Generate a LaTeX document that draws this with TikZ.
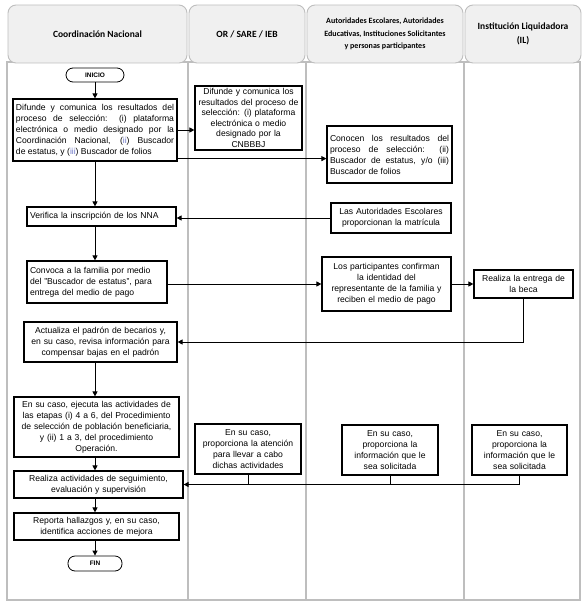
\documentclass[tikz,border=0pt]{standalone}
\usepackage{fontspec}
\setmainfont{Liberation Sans}
\newfontfamily\headfont{Carlito}
\usetikzlibrary{arrows.meta,positioning,calc}
\definecolor{lanegray}{RGB}{190,190,190}
\definecolor{headfill}{RGB}{240,240,240}
\definecolor{numblue}{RGB}{110,120,200}
\newcommand{\rnum}[1]{{\color{numblue}#1}}
\tikzset{
  pbox/.style={rectangle,draw=black,line width=1.2pt,fill=white,
               text width=#1,align=center,inner sep=3pt,
               font=\fontsize{8.6}{11}\selectfont},
  pbox/.default=100pt,
  term/.style={rectangle,rounded corners=7pt,draw=black,line width=0.8pt,fill=white,
               minimum width=#1,minimum height=14pt,inner sep=1pt,
               font=\fontsize{6.5}{7}\selectfont\bfseries},
  term/.default=56pt,
  arr/.style={-{Triangle[length=5pt,width=5pt]},line width=0.9pt},
  link/.style={line width=0.9pt},
}

\begin{document}
\begin{tikzpicture}[x=1pt,y=-1pt,
    lanehead/.style={rectangle,rounded corners=8pt,draw=lanegray,fill=headfill,line width=0.9pt,
                     minimum height=58pt,align=center,font=\headfont\fontsize{9.5}{14}\selectfont\bfseries},
    laneline/.style={draw=lanegray,line width=1.1pt},
  ]
    \useasboundingbox (0,0) rectangle (586,607);
    \draw[laneline] (7,62) rectangle (580,600);
    \foreach \x in {188,306,464} \draw[laneline] (\x,62) -- (\x,600);

    \node[lanehead,minimum width=179pt] (h1) at (97.5,34) {Coordinación Nacional};
    \node[lanehead,minimum width=116pt] (h2) at (247,34) {OR / SARE / IEB};
    \node[lanehead,minimum width=156pt,font=\headfont\fontsize{8}{12.5}\selectfont\bfseries] (h3) at (385,34)
      {Autoridades Escolares, Autoridades\\Educativas, Instituciones Solicitantes\\y personas participantes};
    \node[lanehead,minimum width=116pt] (h4) at (523,34) {Institución Liquidadora\\(IL)};

    \coordinate (axis) at (95,0);
    \node[term=58pt] (ini) at (95,75) {INICIO};
    \node[pbox=158pt,align=justify,minimum height=62pt] (cn1) at (95,130)
      {Difunde y comunica los resultados del\linebreak proceso de selección: (i) plataforma\linebreak
       electrónica o medio designado por la\linebreak Coordinación Nacional, (\rnum{ii}) Buscador\linebreak
       de estatus, y (\rnum{iii}) Buscador de folios};
    \node[pbox=101pt,minimum height=64pt,inner ysep=1pt,font=\fontsize{8.6}{10.5}\selectfont] (or1) at (248.5,118)
      {Difunde y comunica los\\resultados del proceso de\\selección: (i) plataforma\\electrónica o medio\\designado por la\\CNBBBJ};
    \node[pbox=119pt,align=justify,minimum height=57pt] (ae1) at (389.5,154.5)
      {Conocen los resultados del\linebreak proceso de selección: (ii)\linebreak
       Buscador de estatus, y/o (iii)\linebreak Buscador de folios};
    \node[pbox=143pt,align=left,minimum height=19pt,inner ysep=1pt] (cn2) at (101.5,216.5)
      {Verifica la inscripción de los NNA};
    \node[pbox=114pt,minimum height=30pt,inner ysep=1pt] (ae2) at (391,218)
      {Las Autoridades Escolares\\proporcionan la matrícula};
    \node[pbox=134pt,align=left,minimum height=42pt] (cn3) at (97,282)
      {Convoca a la familia por medio\\del "Buscador de estatus", para\\entrega del medio de pago};
    \node[pbox=123pt,minimum height=54pt] (ae3) at (386.5,284)
      {Los participantes confirman\\la identidad del\\representante de la familia y\\reciben el medio de pago};
    \node[pbox=93pt,minimum height=28pt,inner ysep=1pt] (il1) at (523.5,284)
      {Realiza la entrega de\\la beca};
    \node[pbox=147pt,minimum height=40pt,inner ysep=1pt] (cn4) at (100.5,342)
      {Actualiza el padrón de becarios y,\\en su caso, revisa información para\\compensar bajas en el padrón};
    \node[pbox=159pt,minimum height=60pt,inner ysep=1pt] (cn5) at (96.5,427)
      {En su caso, ejecuta las actividades de\\las etapas (i) 4 a 6, del Procedimiento\\de selección de población beneficiaria,\\y (ii) 1 a 3, del procedimiento\\Operación.};
    \node[pbox=100pt,minimum height=50pt,inner ysep=1pt] (or2) at (248,449)
      {En su caso,\\proporciona la atención\\para llevar a cabo\\dichas actividades};
    \node[pbox=90pt,minimum height=50pt,inner ysep=1pt] (ae4) at (390,450)
      {En su caso,\\proporciona la\\información que le\\sea solicitada};
    \node[pbox=89pt,minimum height=50pt,inner ysep=1pt] (il2) at (519.5,450)
      {En su caso,\\proporciona la\\información que le\\sea solicitada};
    \node[pbox=163pt,minimum height=27pt,inner ysep=1pt] (cn6) at (98.5,484.5)
      {Realiza actividades de seguimiento,\\evaluación y supervisión};
    \node[pbox=159pt,minimum height=27pt,inner ysep=1pt] (cn7) at (96.5,526.5)
      {Reporta hallazgos y, en su caso,\\identifica acciones de mejora};
    \node[term=54pt,minimum height=15pt] (fin) at (95,563.5) {FIN};

    \coordinate (a1) at ([yshift=3pt]cn1.south east);
    \draw[arr] (ini) -- (cn1);
    \draw[arr] (cn1.east |- cn1) -- (cn1 -| or1.west);
    \draw[arr] (a1) -- (a1 -| ae1.west);
    \draw[arr] (cn1.south) -- (cn1.south |- cn2.north);
    \draw[arr] (ae2.west) -- (ae2.west -| cn2.east);
    \draw[arr] (cn2.south -| axis) -- (cn3.north -| axis);
    \draw[arr] (cn3.east |- ae3.west) -- (ae3.west);
    \draw[arr] (ae3) -- (il1);
    \draw[arr] (il1.south) |- (cn4.east);
    \draw[arr] (cn4.south -| axis) -- (cn5.north -| axis);
    \draw[arr] (cn5.south -| axis) -- (cn6.north -| axis);
    \draw[link] (or2.south) -- (or2.south |- cn6.east);
    \draw[link] (ae4.south) -- (ae4.south |- cn6.east);
    \draw[arr] (il2.south) |- (cn6.east);
    \draw[arr] (cn6.south -| axis) -- (cn7.north -| axis);
    \draw[arr] (cn7.south -| axis) -- (fin.north -| axis);
  \end{tikzpicture}
\end{document}
